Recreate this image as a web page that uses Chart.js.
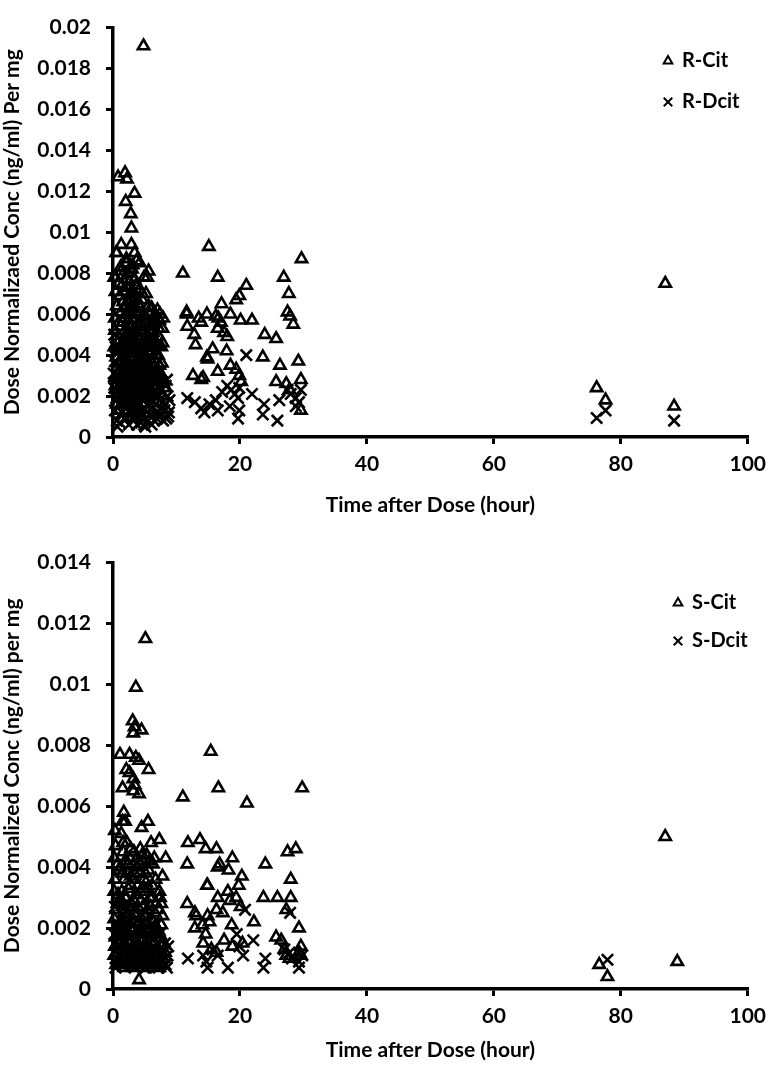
<!DOCTYPE html>
<html>
<head>
<meta charset="utf-8">
<script src="https://cdn.jsdelivr.net/npm/chart.js@4.4.1/dist/chart.umd.min.js"></script>
<style>
  body { margin: 0; background: #fff; }
  .box { position: absolute; left: 0; width: 774px; }
</style>
</head>
<body>
<div class="box" style="top:0;height:535px"><canvas id="topChart" width="774" height="535"></canvas></div>
<div class="box" style="top:535px;height:536px"><canvas id="bottomChart" width="774" height="536"></canvas></div>
<script>
// [hour, dose normalized conc]
const rCit = [
  [4.8,0.0191],[0.8,0.0127],[1.9,0.0129],[2.2,0.0126],[3.4,0.0119],[2.0,0.0115],[2.8,0.0109],[2.9,0.0102],
  [1.3,0.0094],[2.9,0.0094],[0.6,0.0090],[3.4,0.0090],[2.1,0.0087],[1.3,0.0081],[3.0,0.0082],[4.2,0.0085],
  [5.6,0.0081],[5.4,0.0078],[3.7,0.0086],[2.6,0.0082],[4.9,0.0078],
  [7.0,0.0062],[7.9,0.0058],[7.2,0.0053],[6.2,0.0055],[7.8,0.0046],[6.8,0.0040],[7.3,0.0035],[7.8,0.0028],[8.3,0.0024],[6.2,0.0052],
  [0.5,0.0090],[0.4,0.0071],[0.6,0.0064],[0.3,0.0052],[0.8,0.0046],[0.5,0.0039],[0.7,0.0031],[0.4,0.0025],[0.9,0.0019],[0.6,0.0016],
  [1.2,0.0083],[1.4,0.0074],[1.1,0.0069],[1.6,0.0066],[1.3,0.0061],[1.8,0.0058],[1.2,0.0054],[1.5,0.0050],[1.7,0.0045],
  [1.1,0.0042],[1.4,0.0037],[1.9,0.0034],[1.2,0.0030],[1.6,0.0027],[1.3,0.0023],[1.8,0.0020],[1.5,0.0017],[1.0,0.0013],
  [2.1,0.0085],[2.4,0.0080],[2.2,0.0073],[2.7,0.0070],[2.3,0.0066],[2.8,0.0063],[2.1,0.0060],[2.5,0.0057],[2.9,0.0054],
  [2.2,0.0051],[2.6,0.0048],[2.4,0.0044],[2.8,0.0041],[2.1,0.0038],[2.6,0.0035],[2.3,0.0032],[2.9,0.0029],[2.5,0.0026],
  [2.2,0.0022],[2.7,0.0019],[2.4,0.0015],
  [3.1,0.0084],[3.4,0.0077],[3.2,0.0071],[3.6,0.0068],[3.3,0.0064],[3.8,0.0060],[3.1,0.0057],[3.5,0.0053],[3.9,0.0049],
  [3.2,0.0046],[3.7,0.0042],[3.4,0.0039],[3.8,0.0035],[3.2,0.0032],[3.6,0.0028],[3.3,0.0025],[3.9,0.0022],[3.5,0.0018],
  [4.2,0.0072],[4.6,0.0067],[4.3,0.0063],[4.8,0.0059],[4.1,0.0055],[4.5,0.0051],[4.9,0.0047],[4.2,0.0043],[4.7,0.0039],
  [4.4,0.0035],[4.9,0.0031],[4.3,0.0027],[4.6,0.0023],[4.8,0.0019],
  [5.2,0.0070],[5.6,0.0064],[5.3,0.0058],[5.8,0.0054],[5.1,0.0049],[5.5,0.0045],[5.9,0.0041],[5.3,0.0037],[5.7,0.0033],
  [5.2,0.0029],[5.6,0.0025],[5.9,0.0021],
  [6.1,0.0063],[6.5,0.0058],[6.3,0.0051],[6.8,0.0046],[6.2,0.0042],[6.6,0.0038],[6.9,0.0033],[6.4,0.0029],[6.7,0.0025],[6.3,0.0021],
  [7.4,0.0060],[7.8,0.0053],[7.2,0.0049],[7.6,0.0044],[7.1,0.0040],[7.5,0.0031],[7.9,0.0027],[7.3,0.0023],
  [0.2,0.0078],[0.9,0.0075],[0.3,0.0058],[0.9,0.0056],[0.2,0.0044],[0.9,0.0036],[0.3,0.0029],[0.8,0.0023],
  [1.5,0.0079],[1.9,0.0071],[1.7,0.0063],[1.5,0.0056],[1.9,0.0048],[1.6,0.0040],[1.8,0.0031],[1.9,0.0025],
  [2.6,0.0076],[2.9,0.0067],[2.4,0.0062],[2.7,0.0053],[2.9,0.0046],[2.3,0.0042],[2.9,0.0037],[2.4,0.0030],[2.8,0.0024],[2.3,0.0018],
  [3.6,0.0074],[3.9,0.0065],[3.5,0.0061],[3.9,0.0055],[3.6,0.0047],[3.1,0.0043],[3.5,0.0036],[3.9,0.0031],[3.1,0.0027],[3.7,0.0024],
  [4.6,0.0070],[4.2,0.0060],[4.7,0.0054],[4.3,0.0049],[4.8,0.0044],[4.1,0.0038],[4.6,0.0033],[4.1,0.0030],[4.5,0.0026],
  [5.6,0.0061],[5.1,0.0056],[5.9,0.0047],[5.4,0.0042],[5.1,0.0034],[5.8,0.0029],
  [6.7,0.0056],[6.4,0.0048],[6.1,0.0036],[6.8,0.0030],[7.3,0.0057],[7.0,0.0045],[7.7,0.0036],
  [15.1,0.0093],[29.7,0.0087],[11.0,0.0080],[16.5,0.0078],[21.0,0.0074],[26.9,0.0078],[27.7,0.0070],[19.9,0.0069],
  [19.4,0.0067],[17.1,0.0065],[11.6,0.0061],[11.6,0.0060],[13.5,0.0058],[13.9,0.0056],[14.8,0.0060],[16.2,0.0059],
  [16.6,0.0058],[17.0,0.0056],[18.5,0.0060],[20.1,0.0057],[21.9,0.0057],[27.5,0.0061],[27.9,0.0059],[28.4,0.0055],
  [11.7,0.0054],[12.8,0.0050],[16.5,0.0053],[17.5,0.0051],[18.0,0.0049],[23.9,0.0050],[25.7,0.0048],[13.0,0.0045],
  [15.7,0.0043],[17.9,0.0042],[14.8,0.0039],[14.9,0.0038],[23.6,0.0039],[26.3,0.0035],[29.2,0.0037],[16.5,0.0032],
  [18.5,0.0035],[19.4,0.0033],[19.9,0.0030],[20.2,0.0027],[12.6,0.0030],[13.9,0.0028],[14.2,0.0029],[25.7,0.0027],
  [27.3,0.0026],[29.6,0.0028],[29.6,0.0013],[27.8,0.0023],
  [76.2,0.0024],[77.6,0.0018],[87.0,0.0075],[88.4,0.0015]
];
const rDcit = [
  [0.2,0.0050],[0.4,0.0044],[0.3,0.0037],[0.6,0.0030],[0.2,0.0024],[0.5,0.0019],[0.3,0.0013],[0.6,0.0008],
  [1.2,0.0047],[1.5,0.0040],[1.1,0.0034],[1.7,0.0028],[1.3,0.0022],[1.8,0.0017],[1.4,0.0012],[1.1,0.0007],
  [2.3,0.0052],[2.6,0.0045],[2.2,0.0039],[2.8,0.0033],[2.4,0.0027],[2.7,0.0021],[2.2,0.0016],[2.9,0.0011],[2.5,0.0006],
  [3.4,0.0048],[3.2,0.0041],[3.7,0.0035],[3.3,0.0029],[3.8,0.0024],[3.4,0.0018],[3.9,0.0013],[3.2,0.0009],
  [4.3,0.0043],[4.7,0.0036],[4.2,0.0030],[4.6,0.0025],[4.4,0.0019],[4.8,0.0014],[4.3,0.0010],[4.9,0.0006],
  [5.3,0.0038],[5.7,0.0031],[5.2,0.0026],[5.6,0.0021],[5.4,0.0016],[5.8,0.0011],[5.1,0.0005],
  [6.4,0.0033],[6.2,0.0027],[6.7,0.0022],[6.3,0.0017],[6.8,0.0012],[6.5,0.0008],
  [7.2,0.0028],[7.6,0.0023],[7.3,0.0018],[7.8,0.0014],[7.4,0.0010],
  [8.3,0.0025],[8.6,0.0020],[8.2,0.0016],[8.8,0.0012],[8.4,0.0009],
  [0.1,0.0031],[0.7,0.0041],[0.8,0.0025],[0.9,0.0016],[0.7,0.0005],
  [1.7,0.0044],[1.9,0.0037],[1.5,0.0031],[1.9,0.0024],[1.6,0.0019],[1.8,0.0009],
  [2.7,0.0049],[2.8,0.0042],[2.6,0.0036],[2.1,0.0030],[2.1,0.0024],[2.5,0.0018],[2.6,0.0013],[2.1,0.0009],
  [3.7,0.0045],[3.9,0.0038],[3.1,0.0032],[3.6,0.0026],[3.1,0.0021],[3.7,0.0016],[3.5,0.0011],[3.8,0.0006],
  [4.8,0.0040],[4.5,0.0033],[4.9,0.0028],[4.1,0.0022],[4.2,0.0016],[4.6,0.0012],[4.4,0.0007],
  [5.8,0.0035],[5.1,0.0029],[5.9,0.0024],[5.3,0.0019],[5.9,0.0014],[5.5,0.0008],
  [6.8,0.0030],[6.1,0.0024],[6.9,0.0019],[6.2,0.0014],[6.9,0.0009],[6.1,0.0006],
  [7.7,0.0027],[7.1,0.0021],[7.9,0.0017],[7.2,0.0012],[7.9,0.0008],
  [8.5,0.0028],[8.9,0.0018],[8.1,0.0013],[8.7,0.0010],
  [21.0,0.0040],[11.7,0.0019],[12.9,0.0017],[13.9,0.0014],[14.4,0.0012],[15.2,0.0016],[16.2,0.0018],[16.5,0.0013],
  [17.2,0.0022],[18.0,0.0025],[18.6,0.0023],[19.2,0.0021],[19.9,0.0024],[19.7,0.0019],[18.4,0.0015],[19.9,0.0013],
  [19.7,0.0009],[21.9,0.0021],[23.8,0.0016],[23.6,0.0011],[25.9,0.0008],[26.2,0.0018],[27.5,0.0023],[28.0,0.0021],
  [28.8,0.0019],[29.3,0.0017],[29.6,0.0023],[28.8,0.0015],
  [76.2,0.00093],[77.6,0.0013],[88.4,0.0008]
];
const sCit = [
  [5.1,0.0115],[3.6,0.0099],[3.1,0.0088],[3.2,0.0084],[4.5,0.0085],[3.4,0.0086],[1.1,0.0077],[2.6,0.0077],
  [3.6,0.0076],[4.1,0.0075],[5.6,0.0072],[2.1,0.0072],[2.6,0.0071],[3.2,0.0069],[3.4,0.0067],[1.5,0.0066],
  [3.2,0.0065],[4.1,0.0064],[1.7,0.0058],[1.9,0.0055],[1.5,0.0055],[0.3,0.0052],[4.5,0.0053],[5.5,0.0055],
  [7.3,0.0049],[8.3,0.0043],[6.0,0.0048],[7.8,0.0037],[7.3,0.0032],[7.6,0.0028],[7.6,0.0021],[0.3,0.0014],[4.1,0.0003],
  [0.4,0.0047],[0.7,0.0041],[0.3,0.0036],[0.8,0.0031],[0.5,0.0026],[0.9,0.0021],[0.4,0.0017],[0.7,0.0012],[0.5,0.0008],
  [1.3,0.0051],[1.6,0.0045],[1.2,0.0040],[1.8,0.0036],[1.4,0.0032],[1.1,0.0028],[1.7,0.0025],[1.3,0.0021],[1.9,0.0018],
  [1.5,0.0014],[1.2,0.0010],[1.8,0.0007],
  [2.2,0.0048],[2.6,0.0043],[2.3,0.0038],[2.8,0.0034],[2.1,0.0030],[2.5,0.0027],[2.9,0.0023],[2.2,0.0019],[2.7,0.0015],
  [2.4,0.0011],[2.8,0.0008],
  [3.3,0.0045],[3.7,0.0040],[3.2,0.0036],[3.6,0.0031],[3.9,0.0027],[3.4,0.0022],[3.8,0.0018],[3.3,0.0014],[3.6,0.0010],[3.2,0.0007],
  [4.3,0.0046],[4.7,0.0042],[4.2,0.0038],[4.8,0.0033],[4.4,0.0029],[4.9,0.0024],[4.3,0.0020],[4.6,0.0016],[4.2,0.0012],[4.8,0.0008],
  [5.3,0.0044],[5.6,0.0039],[5.2,0.0035],[5.8,0.0030],[5.4,0.0026],[5.1,0.0021],[5.7,0.0017],[5.3,0.0013],[5.9,0.0009],
  [6.3,0.0041],[6.7,0.0036],[6.2,0.0030],[6.6,0.0025],[6.9,0.0020],[6.4,0.0015],[6.8,0.0011],[6.2,0.0008],
  [7.4,0.0030],[7.8,0.0024],[7.2,0.0019],[7.6,0.0014],[7.9,0.0010],[7.3,0.0007],
  [0.2,0.0043],[0.9,0.0039],[0.2,0.0032],[0.7,0.0028],[0.2,0.0023],[0.8,0.0018],[0.2,0.0011],[0.9,0.0009],
  [1.6,0.0048],[1.9,0.0042],[1.5,0.0038],[1.9,0.0030],[1.5,0.0027],[1.9,0.0022],[1.6,0.0019],[1.3,0.0016],[1.8,0.0011],[1.1,0.0008],
  [2.8,0.0046],[2.4,0.0041],[2.8,0.0037],[2.4,0.0033],[2.9,0.0028],[2.3,0.0025],[2.7,0.0020],[2.4,0.0016],[2.9,0.0012],[2.2,0.0009],
  [3.8,0.0043],[3.4,0.0038],[3.9,0.0034],[3.3,0.0029],[3.7,0.0024],[3.2,0.0019],[3.9,0.0015],[3.5,0.0012],[3.9,0.0008],
  [4.6,0.0044],[4.2,0.0041],[4.9,0.0036],[4.3,0.0032],[4.7,0.0027],[4.2,0.0022],[4.9,0.0018],[4.5,0.0013],[4.4,0.0009],
  [5.7,0.0042],[5.1,0.0038],[5.5,0.0033],[5.9,0.0027],[5.2,0.0024],[5.5,0.0019],[5.1,0.0015],[5.7,0.0011],[5.4,0.0007],
  [6.5,0.0043],[6.2,0.0034],[6.8,0.0028],[6.3,0.0022],[6.6,0.0018],[6.9,0.0013],[6.5,0.0009],
  [7.2,0.0026],[7.6,0.0017],[7.1,0.0012],[7.8,0.0008],[8.2,0.0012],[8.0,0.0015],
  [15.4,0.0078],[16.6,0.0066],[11.0,0.0063],[21.1,0.0061],[29.8,0.0066],
  [11.8,0.0048],[13.7,0.0049],[14.6,0.0046],[16.3,0.0046],[18.8,0.0043],[16.8,0.0041],[16.5,0.0040],[11.7,0.0041],
  [24.0,0.0041],[27.5,0.0045],[28.8,0.0046],[18.2,0.0039],[20.3,0.0037],[28.0,0.0036],[14.8,0.0034],[14.9,0.0034],
  [19.8,0.0034],[18.1,0.0032],[19.4,0.0030],[16.5,0.0030],[18.4,0.0029],[11.7,0.0028],[23.7,0.0030],[25.9,0.0030],
  [28.0,0.0030],[27.3,0.0026],[20.1,0.0027],[16.3,0.0026],[17.3,0.0025],[12.9,0.0025],[13.1,0.0024],[14.9,0.0024],
  [14.1,0.0021],[15.2,0.0022],[22.2,0.0022],[12.9,0.0020],[18.7,0.0021],[29.3,0.0020],[14.6,0.0018],[14.2,0.0015],
  [17.5,0.0016],[20.4,0.0015],[18.8,0.0014],[25.7,0.0017],[26.5,0.0016],[27.0,0.0013],[29.6,0.0014],[29.6,0.0011],
  [29.3,0.0012],[15.5,0.0013],[16.3,0.0012],[27.3,0.0011],[27.8,0.0010],
  [76.6,0.0008],[77.9,0.0004],[87.0,0.0050],[88.9,0.0009]
];
const sDcit = [
  [0.3,0.0027],[0.6,0.0021],[0.4,0.0015],[0.7,0.0010],
  [1.3,0.0030],[1.6,0.0024],[1.2,0.0018],[1.7,0.0013],[1.4,0.0008],
  [2.4,0.0028],[2.2,0.0022],[2.7,0.0017],[2.3,0.0012],[2.8,0.0008],
  [3.3,0.0026],[3.7,0.0020],[3.2,0.0015],[3.8,0.0011],[3.4,0.0007],
  [4.4,0.0025],[4.2,0.0019],[4.7,0.0014],[4.3,0.0010],[4.9,0.0007],
  [5.3,0.0023],[5.7,0.0018],[5.2,0.0013],[5.8,0.0009],
  [6.4,0.0021],[6.2,0.0016],[6.7,0.0012],[6.3,0.0008],
  [7.3,0.0018],[7.7,0.0013],[7.4,0.0009],
  [8.2,0.0015],[8.6,0.0011],[8.3,0.0008],
  [0.2,0.0018],[0.8,0.0013],[0.4,0.0007],
  [1.8,0.0027],[1.1,0.0021],[1.9,0.0016],[1.2,0.0011],
  [2.8,0.0025],[2.1,0.0019],[2.5,0.0014],[2.1,0.0010],
  [3.8,0.0023],[3.2,0.0018],[3.6,0.0013],[3.1,0.0009],
  [4.8,0.0022],[4.5,0.0017],[4.1,0.0012],[4.6,0.0008],
  [5.9,0.0021],[5.2,0.0016],[5.5,0.0011],[5.2,0.0007],
  [6.8,0.0018],[6.5,0.0014],[6.9,0.0010],
  [7.1,0.0015],[7.8,0.0011],[7.2,0.0007],[8.7,0.0014],[8.5,0.0007],
  [20.8,0.0026],[27.9,0.0025],[19.5,0.0018],[22.1,0.0016],[11.8,0.0010],[14.2,0.0011],[14.7,0.0009],[14.9,0.0007],
  [15.7,0.0013],[16.5,0.0011],[18.1,0.0007],[19.9,0.0014],[20.5,0.0011],[23.7,0.0007],[24.0,0.0010],[27.0,0.0013],
  [27.8,0.0012],[28.2,0.0010],[29.3,0.0009],[29.3,0.0007],[29.8,0.0011],
  [77.9,0.00096]
];

const xMax = 100, xStep = 20;
const topYMax = 0.02, bottomYMax = 0.014, yStep = 0.002;

Chart.defaults.font.family = "Lato, 'DejaVu Sans', sans-serif";
Chart.defaults.font.weight = "bold";
Chart.defaults.color = "#000";

// legend drawn at the upper right, one entry per line
const sideLegend = {
  id: "sideLegend",
  afterDraw(chart, args, opts) {
    const ctx = chart.ctx;
    ctx.save();
    chart.data.datasets.forEach((ds, i) => {
      const y = opts.y + i * opts.gap;
      ctx.strokeStyle = "#000";
      ctx.fillStyle = "rgba(0,0,0,0)";
      ctx.lineWidth = 2;
      Chart.helpers.drawPoint(ctx, {
        pointStyle: ds.pointStyle,
        radius: ds.pointStyle === "triangle" ? 5 : 6,
        borderWidth: 2,
        rotation: 0,
      }, opts.x, y);
      ctx.fillStyle = "#000";
      ctx.font = "bold 20px Lato, sans-serif";
      ctx.textBaseline = "middle";
      ctx.textAlign = "left";
      ctx.fillText(ds.label, opts.x + 14, y);
    });
    ctx.restore();
  },
};

function makeDataset(label, pts, style) {
  return {
    label: label,
    data: pts.map((p) => ({ x: p[0], y: p[1] })),
    pointStyle: style,
    pointRadius: style === "triangle" ? 6.5 : 8,
    pointBorderWidth: 2.6,
    pointBorderColor: "#000",
    pointBackgroundColor: "rgba(0,0,0,0)",
    showLine: false,
    clip: false,
  };
}

function makeChart(id, sets, yMax, yTitle, pad, xHeight, titlePad, legendPos) {
  return new Chart(document.getElementById(id), {
    type: "scatter",
    data: { datasets: sets },
    plugins: [sideLegend],
    options: {
      responsive: false,
      animation: false,
      layout: { padding: { top: pad, right: 23, left: 0, bottom: 0 } },
      plugins: {
        legend: { display: false },
        tooltip: { enabled: false },
        sideLegend: legendPos,
      },
      scales: {
        x: {
          type: "linear",
          min: 0,
          max: xMax,
          afterFit: (s) => { s.height = xHeight; },
          ticks: { stepSize: xStep, font: { size: 21 }, padding: 8, maxRotation: 0 },
          grid: { drawOnChartArea: false, drawTicks: true, tickLength: 7, color: "#000", lineWidth: 3 },
          border: { display: true, color: "#000", width: 3.5 },
          title: {
            display: true,
            text: "Time after Dose (hour)",
            font: { size: 21 },
            padding: { top: 4, bottom: titlePad },
          },
        },
        y: {
          min: 0,
          max: yMax,
          afterFit: (s) => { s.width = 113; },
          ticks: {
            stepSize: yStep,
            font: { size: 21 },
            padding: 15,
            callback: (v) => parseFloat(v.toFixed(4)).toString(),
          },
          grid: { drawOnChartArea: false, drawTicks: true, tickLength: 7, color: "#000", lineWidth: 3 },
          border: { display: true, color: "#000", width: 3.5 },
          title: { display: true, text: yTitle, font: { size: 21 }, padding: { top: 0, bottom: 2 } },
        },
      },
    },
  });
}

makeChart(
  "topChart",
  [makeDataset("R-Cit", rCit, "triangle"), makeDataset("R-Dcit", rDcit, "crossRot")],
  topYMax,
  "Dose Normalizaed Conc (ng/ml) Per mg",
  13, 98, 17,
  { x: 668, y: 61, gap: 41 }
);
makeChart(
  "bottomChart",
  [makeDataset("S-Cit", sCit, "triangle"), makeDataset("S-Dcit", sDcit, "crossRot")],
  bottomYMax,
  "Dose Normalized Conc (ng/ml) per mg",
  27, 82, 8,
  { x: 678, y: 68, gap: 38 }
);
</script>
</body>
</html>
